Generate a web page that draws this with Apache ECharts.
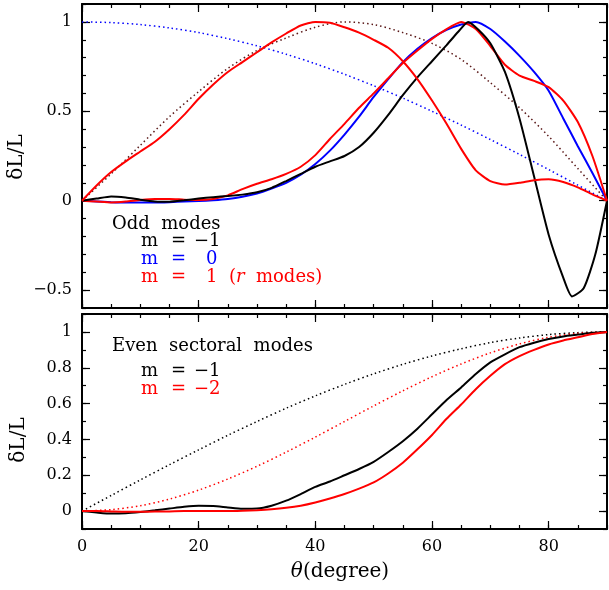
<!DOCTYPE html>
<html>
<head>
<meta charset="utf-8">
<title>Odd and even modes</title>
<script src="https://cdn.jsdelivr.net/npm/echarts@6.0.0/dist/echarts.min.js"></script>
<style>
  html, body { margin: 0; padding: 0; background: #fff; }
  #chart { width: 609px; height: 590px; }
</style>
</head>
<body>
<div id="chart"></div>
<script>
// theta grids (degrees)
const thetaFine = [0, 2.5, 5, 7.5, 10, 12.5, 15, 17.5, 20, 22.5, 25, 27.5, 30, 32.5, 35, 37.5, 40, 42.5, 45,
    47.5, 50, 52.5, 55, 57.5, 60, 62.5, 65, 67.5, 70, 72.5, 75, 77.5, 80, 82.5, 85, 87.5, 90];
// the m = -1 odd curve peaks sharply near 66 deg
const thetaOddM1 = [0, 2.5, 5, 7.5, 10, 12.5, 15, 17.5, 20, 22.5, 25, 27.5, 30, 32.5, 35, 37.5, 40, 42.5, 45,
    47.5, 50, 52.5, 55, 57.5, 60, 62.5, 64.5, 66.2, 68, 70, 72.5, 75, 77.5, 80, 82.5, 84, 86, 88, 90];
const thetaCoarse = [0, 5, 10, 15, 20, 25, 30, 35, 40, 45, 50, 55, 60, 65, 70, 75, 80, 85, 90];

// top panel: odd modes
const oddM1 = [0, 0.012, 0.024, 0.018, 0.006, -0.004, -0.006, 0.002, 0.012, 0.02, 0.026, 0.034, 0.047, 0.072, 0.11, 0.15, 0.19, 0.22, 0.25,
    0.30, 0.38, 0.48, 0.59, 0.69, 0.78, 0.87, 0.945, 1.0, 0.955, 0.88, 0.72, 0.46, 0.135, -0.19, -0.43, -0.535, -0.49, -0.30, 0];
const oddM0 = [0, -0.004, -0.008, -0.01, -0.01, -0.01, -0.008, -0.005, -0.002, 0.003, 0.01, 0.022, 0.04, 0.068, 0.10, 0.145, 0.205, 0.28, 0.37,
    0.47, 0.58, 0.68, 0.775, 0.85, 0.91, 0.955, 0.985, 1.0, 0.96, 0.89, 0.81, 0.72, 0.615, 0.46, 0.305, 0.155, 0];
const oddP1 = [0, -0.005, -0.01, -0.005, 0.004, 0.01, 0.01, 0.006, 0.004, 0.01, 0.03, 0.065, 0.095, 0.12, 0.15, 0.19, 0.255, 0.345, 0.43,
    0.52, 0.60, 0.685, 0.77, 0.84, 0.905, 0.96, 1.0, 0.96, 0.865, 0.76, 0.70, 0.67, 0.635, 0.56, 0.44, 0.25, 0];
const oddRMode = [0, 0.085, 0.16, 0.22, 0.275, 0.33, 0.40, 0.48, 0.57, 0.65, 0.72, 0.775, 0.83, 0.885, 0.935, 0.98, 1.0, 0.995, 0.97,
    0.94, 0.90, 0.855, 0.78, 0.68, 0.56, 0.43, 0.29, 0.17, 0.11, 0.09, 0.10, 0.115, 0.12, 0.105, 0.075, 0.035, 0];
const oddRefCos = [1, 0.996, 0.985, 0.966, 0.94, 0.906, 0.866, 0.819, 0.766, 0.707, 0.643, 0.574, 0.5, 0.423, 0.342, 0.259, 0.174, 0.087, 0];
const oddRefHump = [0, 0.15, 0.31, 0.47, 0.61, 0.74, 0.84, 0.91, 0.97, 1.0, 0.985, 0.94, 0.88, 0.79, 0.66, 0.52, 0.36, 0.18, 0];

// bottom panel: even sectoral modes
const evenM1 = [0, -0.008, -0.014, -0.012, -0.005, 0.004, 0.014, 0.024, 0.03, 0.028, 0.02, 0.013, 0.014, 0.03, 0.058, 0.095, 0.135, 0.165, 0.2,
    0.235, 0.275, 0.33, 0.39, 0.46, 0.54, 0.62, 0.69, 0.765, 0.83, 0.875, 0.915, 0.94, 0.96, 0.975, 0.985, 0.995, 1];
const evenM2 = [0, 0, -0.002, -0.004, -0.004, -0.003, -0.002, 0, 0, 0, 0, 0.002, 0.005, 0.01, 0.018, 0.03, 0.048, 0.07, 0.095,
    0.125, 0.16, 0.21, 0.27, 0.345, 0.425, 0.515, 0.595, 0.68, 0.755, 0.82, 0.865, 0.9, 0.93, 0.952, 0.97, 0.988, 1];
const evenRefM1 = [0, 0.087, 0.174, 0.259, 0.342, 0.423, 0.5, 0.574, 0.643, 0.707, 0.766, 0.819, 0.866, 0.906, 0.94, 0.966, 0.985, 0.996, 1];
const evenRefM2 = [0, 0.008, 0.03, 0.067, 0.117, 0.179, 0.25, 0.329, 0.413, 0.5, 0.587, 0.671, 0.75, 0.821, 0.883, 0.933, 0.97, 0.992, 1];

// tick labels
const xTicks = [0, 20, 40, 60, 80];
const yTicksTop = [-0.5, 0, 0.5, 1];
const yTicksBottom = [0, 0.2, 0.4, 0.6, 0.8, 1];

const FONT = 'DejaVu Serif';
const fmt = v => (v < 0 ? '\u2212' + String(-v) : String(v));
const pairs = (xs, ys) => xs.map((x, i) => [x, ys[i]]);

// one side of the frame: a line with short ticks, plus an overlay with the long ticks
function side(gi, pos, min, max, step, major, labels) {
    const base = { type: 'value', gridIndex: gi, position: pos, min: min, max: max, splitLine: { show: false } };
    return [
        Object.assign({}, base, {
            interval: step,
            axisLine: { show: true, onZero: false, lineStyle: { color: '#000', width: 2 } },
            axisTick: { show: true, inside: true, length: 4, lineStyle: { color: '#000', width: 1.2 } },
            axisLabel: labels
                ? { show: true, customValues: major, margin: 10, color: '#000', fontFamily: FONT, fontSize: 16, formatter: fmt }
                : { show: false }
        }),
        Object.assign({}, base, {
            axisLine: { show: false, onZero: false },
            axisTick: { show: true, inside: true, length: 8, customValues: major, lineStyle: { color: '#000', width: 1.2 } },
            axisLabel: { show: false }
        })
    ];
}

const xAxes = [].concat(
    side(0, 'bottom', 0, 90, 5, xTicks, false), side(0, 'top', 0, 90, 5, xTicks, false),
    side(1, 'bottom', 0, 90, 5, xTicks, true), side(1, 'top', 0, 90, 5, xTicks, false)
);
const yAxes = [].concat(
    side(0, 'left', -0.6, 1.1, 0.1, yTicksTop, true), side(0, 'right', -0.6, 1.1, 0.1, yTicksTop, false),
    side(1, 'left', -0.1, 1.1, 0.1, yTicksBottom, true), side(1, 'right', -0.1, 1.1, 0.1, yTicksBottom, false)
);

function solid(gi, xs, ys, color) {
    return {
        type: 'line', xAxisIndex: gi * 4, yAxisIndex: gi * 4, data: pairs(xs, ys),
        showSymbol: false, smooth: 0.2, lineStyle: { color: color, width: 2 }, silent: true
    };
}
function dotted(gi, xs, ys, color) {
    return {
        type: 'line', xAxisIndex: gi * 4, yAxisIndex: gi * 4, data: pairs(xs, ys),
        showSymbol: false, smooth: 0.3, lineStyle: { color: color, width: 1.5, type: [1.5, 3] }, silent: true
    };
}

function label(x, y, text, color) {
    return {
        type: 'text', x: x, y: y, silent: true,
        style: { text: text, fill: color, font: '18px "DejaVu Serif"', align: 'left', verticalAlign: 'middle' }
    };
}

const chart = echarts.init(document.getElementById('chart'), null, { renderer: 'canvas' });
chart.setOption({
    animation: false,
    grid: [
        { left: 82, top: 4, width: 525, height: 304 },
        { left: 82, top: 314, width: 525, height: 215 }
    ],
    xAxis: xAxes,
    yAxis: yAxes,
    series: [
        dotted(0, thetaCoarse, oddRefCos, '#0000ff'),
        dotted(0, thetaCoarse, oddRefHump, '#5a1818'),
        solid(0, thetaFine, oddM0, '#0000ff'),
        solid(0, thetaFine, oddP1, '#ff0000'),
        solid(0, thetaOddM1, oddM1, '#000000'),
        solid(0, thetaFine, oddRMode, '#ff0000'),
        dotted(1, thetaCoarse, evenRefM1, '#000000'),
        dotted(1, thetaCoarse, evenRefM2, '#ff0000'),
        solid(1, thetaFine, evenM1, '#000000'),
        solid(1, thetaFine, evenM2, '#ff0000')
    ],
    graphic: [
        label(112, 224, 'Odd  modes', '#000'),
        label(141, 241, 'm', '#000'), label(171, 241, '=', '#000'), label(194, 241, '\u22121', '#000'),
        label(141, 259, 'm', '#0000ff'), label(171, 259, '=', '#0000ff'), label(206, 259, '0', '#0000ff'),
        label(141, 277, 'm', '#ff0000'), label(171, 277, '=', '#ff0000'),
        {
            type: 'text', x: 206, y: 277, silent: true,
            style: {
                text: '1  ({i|r}  modes)', fill: '#ff0000', font: '18px "DejaVu Serif"', verticalAlign: 'middle',
                rich: { i: { fontStyle: 'italic', fontFamily: FONT, fontSize: 18, fill: '#ff0000' } }
            }
        },
        label(112, 346, 'Even  sectoral  modes', '#000'),
        label(141, 371, 'm', '#000'), label(171, 371, '=', '#000'), label(194, 371, '\u22121', '#000'),
        label(141, 389, 'm', '#ff0000'), label(171, 389, '=', '#ff0000'), label(194, 389, '\u22122', '#ff0000'),
        {
            type: 'text', x: 17, y: 157, rotation: Math.PI / 2, silent: true,
            style: { text: '\u03b4L/L', fill: '#000', font: '20px "DejaVu Serif"', align: 'center', verticalAlign: 'middle' }
        },
        {
            type: 'text', x: 19, y: 440, rotation: Math.PI / 2, silent: true,
            style: { text: '\u03b4L/L', fill: '#000', font: '20px "DejaVu Serif"', align: 'center', verticalAlign: 'middle' }
        },
        {
            type: 'text', x: 340, y: 572, silent: true,
            style: {
                text: '{i|\u03b8}(degree)', fill: '#000', font: '20px "DejaVu Serif"', align: 'center', verticalAlign: 'middle',
                rich: { i: { fontStyle: 'italic', fontFamily: FONT, fontSize: 20, fill: '#000' } }
            }
        }
    ]
});
</script>
</body>
</html>
